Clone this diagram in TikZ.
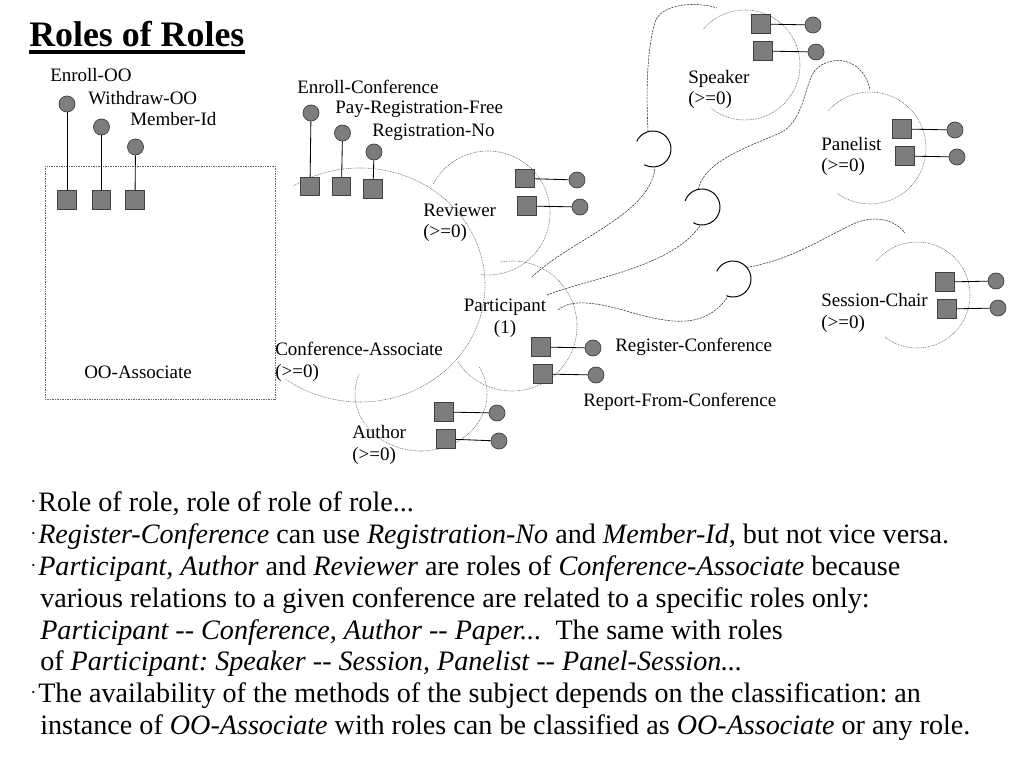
\documentclass[tikz,border=0pt]{standalone}
\usepackage{fontspec}
\setmainfont{Liberation Serif}
\usetikzlibrary{positioning}
\definecolor{rolegray}{RGB}{125,125,125}
\frenchspacing
\newcommand{\bdot}{\makebox[5.7pt][l]{\raisebox{0.25ex}{\fontsize{13}{13}\selectfont\textperiodcentered}}}
\tikzset{
    method/.style={draw=black!75, fill=rolegray, minimum size=0.46cm, inner sep=0pt,
        line width=0.5pt},
    ball/.style={circle, draw=black!75, fill=rolegray, minimum size=0.4cm,
        inner sep=0pt, line width=0.5pt},
    lbl/.style={font=\fontsize{13.5}{15.6}\selectfont, inner sep=0pt,
        anchor=base west, align=left},
    rolearc/.style={draw=black!60, line width=0.4pt, dash pattern=on 0.6pt off 0.6pt},
    link/.style={draw=black!80, line width=0.4pt, dash pattern=on 1.6pt off 0.7pt},
    socket/.style={draw=black, line width=0.7pt},
    txt/.style={font=\fontsize{20}{23}\selectfont, inner sep=0pt, anchor=base west},
}
\begin{document}
\begin{tikzpicture}[x=0.025cm, y=-0.025cm]
    \useasboundingbox (0,0) rectangle (1023,767);
    \node[font=\fontsize{25.5}{30}\selectfont\bfseries, inner sep=0pt,
        anchor=base west] (title) at (29,47) {Roles of Roles};
    \draw[line width=2.3pt] ([yshift=-3.6pt]title.base west)
        -- ([yshift=-3.6pt]title.base east);
    % the object and its roles
    \draw[rolearc] (45,166) rectangle (275,399);
    \node[lbl] (oo) at (84,378) {OO-Associate};
    \draw[rolearc] (360,285) ++(-122:125 and 117)
        arc[start angle=-122, end angle=127, x radius=125, y radius=117];
    \draw[rolearc] (488,213) ++(-152:62) arc[start angle=-152, end angle=97, radius=62];
    \draw[rolearc] (512,326) ++(-100:65) arc[start angle=-100, end angle=147, radius=65];
    \draw[rolearc] (421,394) ++(-28:66 and 57)
        arc[start angle=-28, end angle=201, x radius=66, y radius=57];
    \draw[rolearc] (745,65) ++(-139:55) arc[start angle=-139, end angle=128, radius=55];
    \draw[rolearc] (870,148) ++(-138:56) arc[start angle=-138, end angle=126, radius=56];
    \draw[rolearc] (917,295) ++(-140:53) arc[start angle=-140, end angle=128, radius=53];
    % methods
    \foreach \n/\sx/\sy/\bx/\by in {1/67/200/67/104, 2/101.5/200/101.5/127,
        3/135/200/135.5/147, 4/310/186.5/311/113, 5/341.5/186.5/342.5/133,
        6/373/189/374/152, 7/525/178.5/577/180, 8/527/206/580/207,
        9/541/347/593/348, 10/543/374/596/375, 11/444/412/497/413,
        12/446/439/499/441, 13/761/24/813/25, 14/763/51/816/52,
        15/902/129/955/130, 16/905/156/957/157, 17/945/282/996/281,
        18/947/309/998/308} {
        \node[method] (m\n) at (\sx,\sy) {};
        \node[ball] (b\n) at (\bx,\by) {};
        \draw[line width=0.6pt] (m\n) -- (b\n);
    }
    \node[lbl] (enoo) at (50,82) {Enroll-OO};
    \node[lbl] (wdoo) at (88,105) {Withdraw-OO};
    \node[lbl] (mbid) at (130,126) {Member-Id};
    \node[lbl] (encf) at (297,94) {Enroll-Conference};
    \node[lbl] (payrf) at (335,114) {Pay-Registration-Free};
    \node[lbl] (regno) at (372,137) {Registration-No};
    \node[lbl] (revw) at (423,238) {Reviewer\\(>=0)};
    \node[lbl, anchor=base, align=center] (part) at (505,333) {Participant\\(1)};
    \node[lbl] (cfas) at (275,377) {Conference-Associate\\(>=0)};
    \node[lbl] (auth) at (352,460) {Author\\(>=0)};
    \node[lbl] (regcf) at (615,351) {Register-Conference};
    \node[lbl] (repcf) at (583,406) {Report-From-Conference};
    \node[lbl] (spkr) at (688,105) {Speaker\\(>=0)};
    \node[lbl] (pnl) at (821,172) {Panelist\\(>=0)};
    \node[lbl] (sesch) at (821,328) {Session-Chair\\(>=0)};
    % sockets and links
    \coordinate (sk1) at (653,149);
    \coordinate (sk2) at (702,207);
    \coordinate (sk3) at (733,279);
    \draw[socket] (sk1) ++(-155:18) arc[start angle=-155, end angle=119, radius=18];
    \draw[socket] (sk2) ++(-160:18) arc[start angle=-160, end angle=119, radius=18];
    \draw[socket] (sk3) ++(-155:18) arc[start angle=-155, end angle=112, radius=18];
    \path (sk1) +(84:19) coordinate (sk1lo) +(-106:18) coordinate (sk1hi);
    \path (sk2) +(96:19) coordinate (sk2lo) +(-102:18) coordinate (sk2hi);
    \path (sk3) +(106:18) coordinate (sk3lo) +(-40:18) coordinate (sk3hi);
    \coordinate (pa1) at (532,277);
    \coordinate (pa2) at (547,295);
    \coordinate (pa3) at (558,310);
    \coordinate (spk) at (717,8);
    \coordinate (pnt) at (870,90);
    \coordinate (sct) at (905,233);
    \draw[link] (pa1) .. controls (570,240) and (650,215) .. (sk1lo);
    \draw[link] (sk1hi) .. controls (645,70) and (650,40) .. (655,22)
        .. controls (662,2) and (700,2) .. (spk);
    \draw[link] (pa2) .. controls (590,278) and (670,268) .. (sk2lo);
    \draw[link] (sk2hi) .. controls (704,162) and (745,148) .. (780,133)
        .. controls (802,122) and (804,92) .. (812,75)
        .. controls (822,55) and (862,52) .. (pnt);
    \draw[link] (pa3) .. controls (570,300) and (590,300) .. (633,313)
        .. controls (670,323) and (705,330) .. (sk3lo);
    \draw[link] (sk3hi) .. controls (790,260) and (820,240) .. (853,224)
        .. controls (875,214) and (895,220) .. (sct);
    % notes
    \node[txt] (l1) at (30,511) {\bdot Role of role, role of role of role...};
    \node[txt] (l2) at (30,543) {\bdot \textit{Register-Conference} can use
        \textit{Registration-No} and \textit{Member-Id}, but not vice versa.};
    \node[txt] (l3) at (30,575) {\bdot \textit{Participant, Author} and
        \textit{Reviewer} are roles of \textit{Conference-Associate} because};
    \node[txt] (l4) at (40,607) {various relations to a given conference are
        related to a specific roles only:};
    \node[txt] (l5) at (40,639) {\textit{Participant -{}- Conference, Author
        -{}- Paper...}\ \ The same with roles};
    \node[txt] (l6) at (40,670) {of \textit{Participant: Speaker -{}- Session,
        Panelist -{}- Panel-Session...}};
    \node[txt] (l7) at (30,702) {\bdot The availability of the methods of the
        subject depends on the classification: an};
    \node[txt] (l8) at (40,734) {instance of \textit{OO-Associate} with roles can
        be classified as \textit{OO-Associate} or any role.};
\end{tikzpicture}
\end{document}
